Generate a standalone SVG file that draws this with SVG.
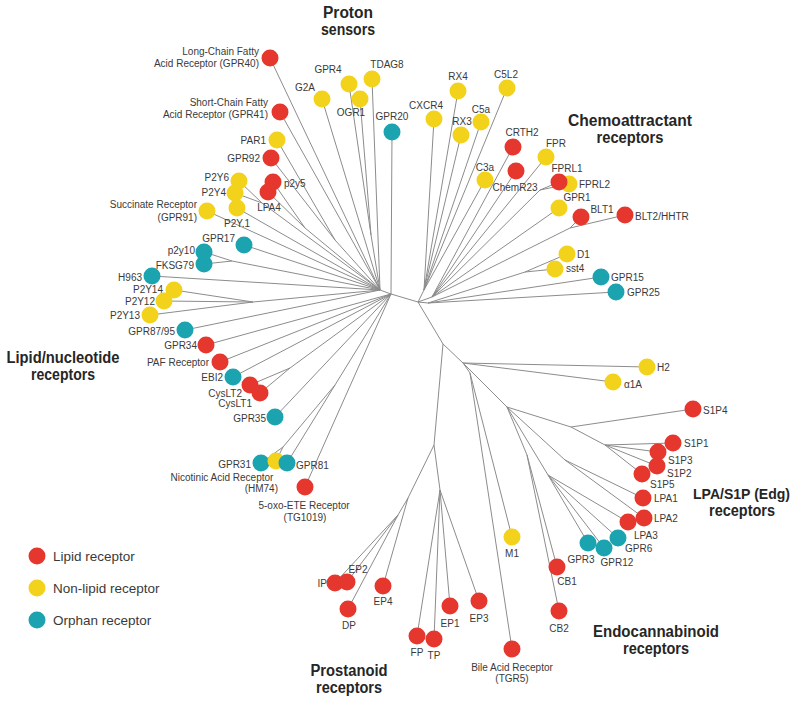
<svg xmlns="http://www.w3.org/2000/svg" width="800" height="704" viewBox="0 0 800 704">
<style>
.e{stroke:#8c8c8c;stroke-width:1;fill:none}
.r{fill:#e5372d}.y{fill:#f3d21c}.t{fill:#1ba4b0}
text{font-family:"Liberation Sans",Arial,sans-serif}
.l{font-size:10px;fill:#3a3a3a}
.m{text-anchor:middle}.s{text-anchor:end}
.g{font-size:16px;font-weight:bold;fill:#262626;text-anchor:middle}
.ge{font-size:15px;font-weight:bold;fill:#262626;text-anchor:end}
.lg{font-size:13.5px;fill:#3a3a3a}
</style>
<rect width="800" height="704" fill="#fff"/>
<g id="connectors" class="e">
<path d="M380 290L391 294L392 132M391 294L418 302L443 344L434 445M443 344L463 363"/>
<path d="M380 290L270 58M380 290L322 99M380 290L371 235L349 84M371 235L360 99M380 290L372 79M380 290L280 112M380 290L335 240L277 140M335 240L271 158M380 290L305 228L273 182M305 228L268 192M380 290L262 203L239 181M262 203L235 193M380 290L237 208M380 290L207 211M380 290L244 245M380 290L232 261L204 252M232 261L204 264M380 290L152 276M380 290L253 302L174 290M253 302L164 301M253 302L150 315M380 290L185 330"/>
<path d="M391 294L206 345M391 294L220 362M391 294L233 377M391 294L290 368L250 385M290 368L260 393M391 294L275 417M391 294L335 385L283 447L261 463M283 447L276 461M335 385L287 463M391 294L305 487"/>
<path d="M418 302L424 290L434 119M424 290L458 91M424 290L461 135M424 290L481 122M424 290L507 88M424 290L485 180M418 302L432 297L513 147M432 297L516 171M432 297L546 157M432 297L540 190L559 182M540 190L569 184M432 297L559 208M432 297L570 228L581 217M570 228L625 215M418 302L428 303L525 272L567 254M525 272L555 269M428 303L601 277M428 303L616 292"/>
<path d="M463 363L647 367M463 363L613 382M463 363L470 373L512 537M470 373L512 649M463 363L507 407L527 455L557 567M527 455L559 611M507 407L571 427L693 409M571 427L605 445L673 443M605 445L658 452M605 445L657 466M605 445L642 474M507 407L565 460L643 498M565 460L644 518M507 407L548 475L628 522M548 475L618 538M548 475L604 548M548 475L588 543"/>
<path d="M434 445L408 498L398 515L335 583M398 515L347 582M398 515L348 609M408 498L383 586M434 445L440 490L417 636M440 490L434 639M440 490L450 606M440 490L479 601"/>
</g>
<g id="groups">
<text class="g" x="348" y="18" textLength="50" lengthAdjust="spacingAndGlyphs">Proton</text>
<text class="g" x="348" y="35" textLength="54" lengthAdjust="spacingAndGlyphs">sensors</text>
<text class="g" x="630" y="126" textLength="124" lengthAdjust="spacingAndGlyphs">Chemoattractant</text>
<text class="g" x="630" y="143" textLength="67" lengthAdjust="spacingAndGlyphs">receptors</text>
<text class="g" x="63" y="363" textLength="113" lengthAdjust="spacingAndGlyphs">Lipid/nucleotide</text>
<text class="g" x="63" y="380" textLength="64" lengthAdjust="spacingAndGlyphs">receptors</text>
<text class="ge" x="790" y="499" textLength="97" lengthAdjust="spacingAndGlyphs">LPA/S1P (Edg)</text>
<text class="g" x="742" y="516" textLength="66" lengthAdjust="spacingAndGlyphs">receptors</text>
<text class="g" x="656" y="637" textLength="126" lengthAdjust="spacingAndGlyphs">Endocannabinoid</text>
<text class="g" x="656" y="654" textLength="66" lengthAdjust="spacingAndGlyphs">receptors</text>
<text class="g" x="349" y="676" textLength="77" lengthAdjust="spacingAndGlyphs">Prostanoid</text>
<text class="g" x="349" y="693" textLength="66" lengthAdjust="spacingAndGlyphs">receptors</text>
</g>
<g id="legend">
<circle class="r" cx="37" cy="556" r="8.5"/><text class="lg" x="53" y="561">Lipid receptor</text>
<circle class="y" cx="37" cy="588" r="8.5"/><text class="lg" x="53" y="593">Non-lipid receptor</text>
<circle class="t" cx="37" cy="620" r="8.5"/><text class="lg" x="53" y="625">Orphan receptor</text>
</g>
<g id="nodes" class="l">
<g id="n-GPR40"><circle class="r" cx="270" cy="58" r="8.5"/><text class="s" x="259" y="55">Long-Chain Fatty</text><text class="s" x="259" y="67">Acid Receptor (GPR40)</text></g>
<g id="n-G2A"><circle class="y" cx="322" cy="99" r="8.5"/><text class="m" x="305" y="91">G2A</text></g>
<g id="n-GPR4"><circle class="y" cx="349" cy="84" r="8.5"/><text class="m" x="328" y="73">GPR4</text></g>
<g id="n-TDAG8"><circle class="y" cx="372" cy="79" r="8.5"/><text class="m" x="387" y="68">TDAG8</text></g>
<g id="n-OGR1"><circle class="y" cx="360" cy="99" r="8.5"/><text class="m" x="351" y="116">OGR1</text></g>
<g id="n-GPR20"><circle class="t" cx="392" cy="132" r="8.5"/><text class="m" x="392" y="120">GPR20</text></g>
<g id="n-GPR41"><circle class="r" cx="280" cy="112" r="8.5"/><text class="s" x="268" y="106">Short-Chain Fatty</text><text class="s" x="268" y="118">Acid Receptor (GPR41)</text></g>
<g id="n-PAR1"><circle class="y" cx="277" cy="140" r="8.5"/><text class="s" x="266" y="143.5">PAR1</text></g>
<g id="n-GPR92"><circle class="r" cx="271" cy="158" r="8.5"/><text class="s" x="260" y="161.5">GPR92</text></g>
<g id="n-p2y5"><circle class="r" cx="273" cy="182" r="8.5"/><text x="284" y="186.5">p2y5</text></g>
<g id="n-LPA4"><circle class="r" cx="268" cy="192" r="8.5"/><text class="m" x="269" y="210.5">LPA4</text></g>
<g id="n-P2Y6"><circle class="y" cx="239" cy="181" r="8.5"/><text class="s" x="229" y="180.5">P2Y6</text></g>
<g id="n-P2Y4"><circle class="y" cx="235" cy="193" r="8.5"/><text class="s" x="226" y="195.5">P2Y4</text></g>
<g id="n-P2Y1"><circle class="y" cx="237" cy="208" r="8.5"/><text class="m" x="237" y="226.5">P2Y.1</text></g>
<g id="n-GPR91"><circle class="y" cx="207" cy="211" r="8.5"/><text class="s" x="197" y="207.5">Succinate Receptor</text><text class="s" x="197" y="220.5">(GPR91)</text></g>
<g id="n-GPR17"><circle class="t" cx="244" cy="245" r="8.5"/><text class="s" x="235" y="241.5">GPR17</text></g>
<g id="n-p2y10"><circle class="t" cx="204" cy="252" r="8.5"/><text class="s" x="195" y="253.5">p2y10</text></g>
<g id="n-FKSG79"><circle class="t" cx="204" cy="264" r="8.5"/><text class="s" x="194" y="268.5">FKSG79</text></g>
<g id="n-H963"><circle class="t" cx="152" cy="276" r="8.5"/><text class="s" x="142" y="280.5">H963</text></g>
<g id="n-P2Y14"><circle class="y" cx="174" cy="290" r="8.5"/><text class="s" x="163" y="292.5">P2Y14</text></g>
<g id="n-P2Y12"><circle class="y" cx="164" cy="301" r="8.5"/><text class="s" x="155" y="304.5">P2Y12</text></g>
<g id="n-P2Y13"><circle class="y" cx="150" cy="315" r="8.5"/><text class="s" x="140" y="318.5">P2Y13</text></g>
<g id="n-GPR87-95"><circle class="t" cx="185" cy="330" r="8.5"/><text class="s" x="175" y="335">GPR87/95</text></g>
<g id="n-GPR34"><circle class="r" cx="206" cy="345" r="8.5"/><text class="s" x="197" y="348.5">GPR34</text></g>
<g id="n-PAF"><circle class="r" cx="220" cy="362" r="8.5"/><text class="s" x="209" y="366">PAF Receptor</text></g>
<g id="n-EBI2"><circle class="t" cx="233" cy="377" r="8.5"/><text class="s" x="223" y="380.5">EBI2</text></g>
<g id="n-CysLT2"><circle class="r" cx="250" cy="385" r="8.5"/><text class="s" x="242" y="396.5">CysLT2</text></g>
<g id="n-CysLT1"><circle class="r" cx="260" cy="393" r="8.5"/><text class="s" x="252" y="406.5">CysLT1</text></g>
<g id="n-GPR35"><circle class="t" cx="275" cy="417" r="8.5"/><text class="s" x="266" y="421.5">GPR35</text></g>
<g id="n-GPR31"><circle class="t" cx="261" cy="463" r="8.5"/><text class="s" x="251" y="467.5">GPR31</text></g>
<g id="n-HM74"><circle class="y" cx="276" cy="461" r="8.5"/><text class="m" x="222" y="480.5">Nicotinic Acid Receptor</text><text class="s" x="278" y="491.5">(HM74)</text></g>
<g id="n-GPR81"><circle class="t" cx="287" cy="463" r="8.5"/><text x="296" y="468.5">GPR81</text></g>
<g id="n-5oxoETE"><circle class="r" cx="305" cy="487" r="8.5"/><text class="m" x="304" y="508.5">5-oxo-ETE Receptor</text><text class="m" x="305" y="520.5">(TG1019)</text></g>
<g id="n-CXCR4"><circle class="y" cx="434" cy="119" r="8.5"/><text class="m" x="426" y="108.5">CXCR4</text></g>
<g id="n-RX4"><circle class="y" cx="458" cy="91" r="8.5"/><text class="m" x="458" y="79.5">RX4</text></g>
<g id="n-RX3"><circle class="y" cx="461" cy="135" r="8.5"/><text class="m" x="462" y="124.5">RX3</text></g>
<g id="n-C5a"><circle class="y" cx="481" cy="122" r="8.5"/><text class="m" x="481" y="112.5">C5a</text></g>
<g id="n-C5L2"><circle class="y" cx="507" cy="88" r="8.5"/><text class="m" x="506" y="77.5">C5L2</text></g>
<g id="n-CRTH2"><circle class="r" cx="513" cy="147" r="8.5"/><text class="m" x="522" y="135.5">CRTH2</text></g>
<g id="n-FPR"><circle class="y" cx="546" cy="157" r="8.5"/><text class="m" x="556" y="146.5">FPR</text></g>
<g id="n-C3a"><circle class="y" cx="485" cy="180" r="8.5"/><text class="m" x="485" y="170.5">C3a</text></g>
<g id="n-ChemR23"><circle class="r" cx="516" cy="171" r="8.5"/><text class="m" x="515" y="190.5">ChemR23</text></g>
<g id="n-FPRL2"><circle class="y" cx="569" cy="184" r="8.5"/><text x="579" y="187.5">FPRL2</text></g>
<g id="n-FPRL1"><circle class="r" cx="559" cy="182" r="8.5"/><text class="m" x="567" y="171.5">FPRL1</text></g>
<g id="n-GPR1"><circle class="y" cx="559" cy="208" r="8.5"/><text class="m" x="577" y="200.5">GPR1</text></g>
<g id="n-BLT1"><circle class="r" cx="581" cy="217" r="8.5"/><text class="m" x="602" y="212.5">BLT1</text></g>
<g id="n-BLT2"><circle class="r" cx="625" cy="215" r="8.5"/><text x="635" y="219.5">BLT2/HHTR</text></g>
<g id="n-D1"><circle class="y" cx="567" cy="254" r="8.5"/><text x="577" y="257.5">D1</text></g>
<g id="n-sst4"><circle class="y" cx="555" cy="269" r="8.5"/><text x="566" y="271.5">sst4</text></g>
<g id="n-GPR15"><circle class="t" cx="601" cy="277" r="8.5"/><text x="611" y="280.5">GPR15</text></g>
<g id="n-GPR25"><circle class="t" cx="616" cy="292" r="8.5"/><text x="627" y="295.5">GPR25</text></g>
<g id="n-H2"><circle class="y" cx="647" cy="367" r="8.5"/><text x="657" y="370.5">H2</text></g>
<g id="n-a1A"><circle class="y" cx="613" cy="382" r="8.5"/><text x="624" y="388">α1A</text></g>
<g id="n-S1P4"><circle class="r" cx="693" cy="409" r="8.5"/><text x="703" y="414">S1P4</text></g>
<g id="n-S1P1"><circle class="r" cx="673" cy="443" r="8.5"/><text x="684" y="446.5">S1P1</text></g>
<g id="n-S1P3"><circle class="r" cx="658" cy="452" r="8.5"/><text x="668" y="463.5">S1P3</text></g>
<g id="n-S1P2"><circle class="r" cx="657" cy="466" r="8.5"/><text x="667" y="476.5">S1P2</text></g>
<g id="n-S1P5"><circle class="r" cx="642" cy="474" r="8.5"/><text x="650" y="488">S1P5</text></g>
<g id="n-LPA1"><circle class="r" cx="643" cy="498" r="8.5"/><text x="654" y="501.5">LPA1</text></g>
<g id="n-LPA2"><circle class="r" cx="644" cy="518" r="8.5"/><text x="654" y="521.5">LPA2</text></g>
<g id="n-LPA3"><circle class="r" cx="628" cy="522" r="8.5"/><text x="634" y="538.5">LPA3</text></g>
<g id="n-GPR6"><circle class="t" cx="618" cy="538" r="8.5"/><text x="625" y="551.5">GPR6</text></g>
<g id="n-GPR12"><circle class="t" cx="604" cy="548" r="8.5"/><text class="m" x="617" y="566">GPR12</text></g>
<g id="n-GPR3"><circle class="t" cx="588" cy="543" r="8.5"/><text class="m" x="581" y="562.5">GPR3</text></g>
<g id="n-M1"><circle class="y" cx="512" cy="537" r="8.5"/><text class="m" x="512" y="556.5">M1</text></g>
<g id="n-CB1"><circle class="r" cx="557" cy="567" r="8.5"/><text class="m" x="567" y="585">CB1</text></g>
<g id="n-CB2"><circle class="r" cx="559" cy="611" r="8.5"/><text class="m" x="559" y="631.5">CB2</text></g>
<g id="n-TGR5"><circle class="r" cx="512" cy="649" r="8.5"/><text class="m" x="512" y="670.5">Bile Acid Receptor</text><text class="m" x="512" y="681.5">(TGR5)</text></g>
<g id="n-IP"><circle class="r" cx="335" cy="583" r="8.5"/><text class="s" x="327" y="586.5">IP</text></g>
<g id="n-EP2"><circle class="r" cx="347" cy="582" r="8.5"/><text class="m" x="358" y="572.5">EP2</text></g>
<g id="n-DP"><circle class="r" cx="348" cy="609" r="8.5"/><text class="m" x="349" y="628.5">DP</text></g>
<g id="n-EP4"><circle class="r" cx="383" cy="586" r="8.5"/><text class="m" x="383" y="604.5">EP4</text></g>
<g id="n-FP"><circle class="r" cx="417" cy="636" r="8.5"/><text class="m" x="417" y="655.5">FP</text></g>
<g id="n-TP"><circle class="r" cx="434" cy="639" r="8.5"/><text class="m" x="434" y="658.5">TP</text></g>
<g id="n-EP1"><circle class="r" cx="450" cy="606" r="8.5"/><text class="m" x="450" y="626.5">EP1</text></g>
<g id="n-EP3"><circle class="r" cx="479" cy="601" r="8.5"/><text class="m" x="479" y="621.5">EP3</text></g>
</g>
</svg>
